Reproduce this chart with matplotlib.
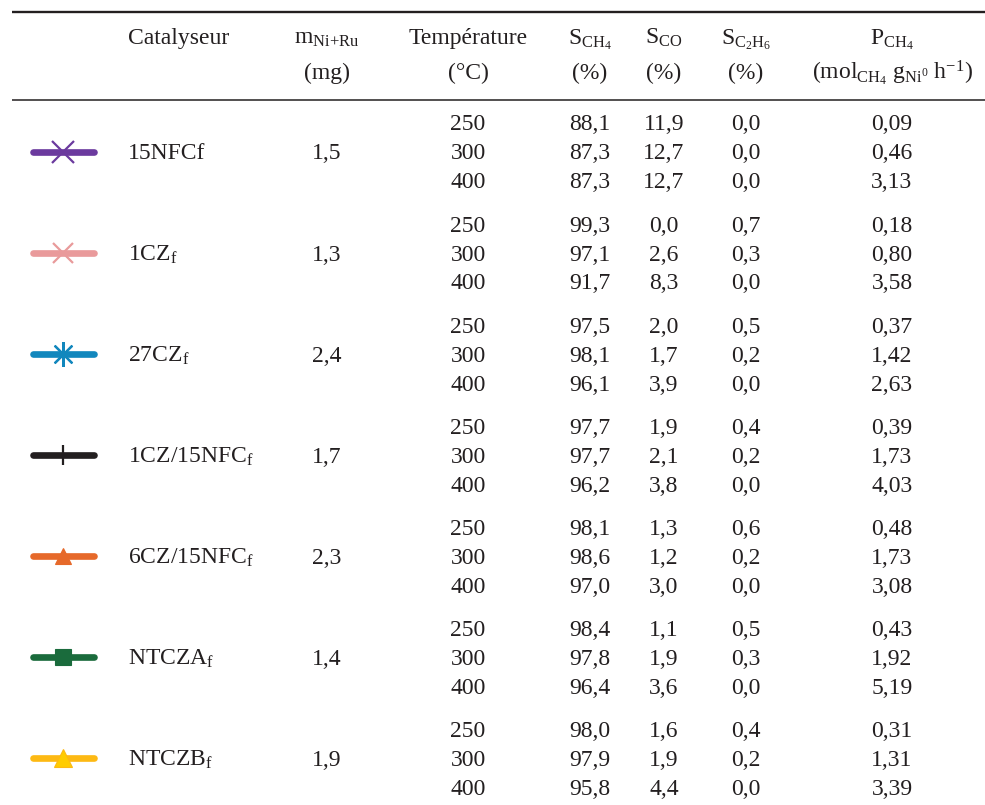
import matplotlib
matplotlib.use("Agg")
import matplotlib.pyplot as plt

plt.rcParams['font.family'] = ['Liberation Serif', 'DejaVu Serif']
plt.rcParams['mathtext.fontset'] = 'custom'
plt.rcParams['mathtext.rm'] = 'Liberation Serif'
plt.rcParams['mathtext.it'] = 'Liberation Serif:italic'
plt.rcParams['mathtext.bf'] = 'Liberation Serif:bold'

# données du tableau
catalysts = ['15NFCf', '1CZ$_\\mathrm{f}$', '27CZ$_\\mathrm{f}$', '1CZ/15NFC$_\\mathrm{f}$',
             '6CZ/15NFC$_\\mathrm{f}$', 'NTCZA$_\\mathrm{f}$', 'NTCZB$_\\mathrm{f}$']
masses = [1.5, 1.3, 2.4, 1.7, 2.3, 1.4, 1.9]
temperatures = [250, 300, 400]
s_ch4 = [[88.1, 87.3, 87.3], [99.3, 97.1, 91.7], [97.5, 98.1, 96.1], [97.7, 97.7, 96.2],
         [98.1, 98.6, 97.0], [98.4, 97.8, 96.4], [98.0, 97.9, 95.8]]
s_co = [[11.9, 12.7, 12.7], [0.0, 2.6, 8.3], [2.0, 1.7, 3.9], [1.9, 2.1, 3.8],
        [1.3, 1.2, 3.0], [1.1, 1.9, 3.6], [1.6, 1.9, 4.4]]
s_c2h6 = [[0.0, 0.0, 0.0], [0.7, 0.3, 0.0], [0.5, 0.2, 0.0], [0.4, 0.2, 0.0],
          [0.6, 0.2, 0.0], [0.5, 0.3, 0.0], [0.4, 0.2, 0.0]]
p_ch4 = [[0.09, 0.46, 3.13], [0.18, 0.80, 3.58], [0.37, 1.42, 2.63], [0.39, 1.73, 4.03],
         [0.48, 1.73, 3.08], [0.43, 1.92, 5.19], [0.31, 1.31, 3.39]]

# style des symboles de légende
colors = ['#6b3a9e', '#e99a9b', '#1287bd', '#231f20', '#e6692a', '#1a6b3c', '#fdb913']
markers = ['x', 'x', (8, 2, 0), '|', '^', 's', '^']
msizes = [16, 14, 18, 14, 12, 12, 13]
mfaces = [None, None, None, None, None, None, '#ffcc00']

header1 = ['Catalyseur', 'm$_{\\mathrm{Ni{+}Ru}}$', 'Température', 'S$_{\\mathrm{CH_4}}$',
           'S$_{\\mathrm{CO}}$', 'S$_{\\mathrm{C_2H_6}}$', 'P$_{\\mathrm{CH_4}}$']
header2 = ['', '(mg)', '(°C)', '(%)', '(%)', '(%)',
           '(mol$_{\\mathrm{CH_4}}$ g$_{\\mathrm{Ni^0}}$ h$^{-1}$)']


def fmt(v, nd):
    return f"{v:.{nd}f}".replace('.', ',')


fig = plt.figure(figsize=(9.85, 8.05), dpi=100)
ax = fig.add_axes([0, 0, 1, 1])
ax.set_xlim(0, 985)
ax.set_ylim(805, 0)
ax.axis('off')

fs = 17
col_x = [128, 327, 468, 590, 664, 746, 892]

# filets
ax.plot([12, 985], [12, 12], color='#231f20', lw=1.7, solid_capstyle='butt')
ax.plot([12, 985], [100, 100], color='#231f20', lw=1.1, solid_capstyle='butt')

# en-tête
for i, (h1, h2) in enumerate(zip(header1, header2)):
    ha = 'left' if i == 0 else 'center'
    ax.text(col_x[i], 44, h1, fontsize=fs, ha=ha, va='baseline', color='#231f20')
    if h2:
        ax.text(col_x[i], 79, h2, fontsize=fs, ha=ha, va='baseline', color='#231f20')

# lignes du tableau
y0, group_step, row_step = 123, 101.1, 28.9
for g, name in enumerate(catalysts):
    yg = y0 + g * group_step
    ym = yg + row_step
    # symbole
    ax.plot([33, 94], [ym, ym], color=colors[g], lw=4.8, solid_capstyle='round', zorder=2)
    thin = markers[g] in ('x', '|') or isinstance(markers[g], tuple)
    mk = dict(marker=markers[g], markersize=msizes[g], color=colors[g],
              markeredgewidth=1.6 if thin else 0.8, linestyle='none', zorder=3)
    if mfaces[g]:
        mk['markerfacecolor'] = mfaces[g]
        mk['markeredgecolor'] = colors[g]
    ax.plot([63], [ym], **mk)
    ax.text(col_x[0], ym + 7.5, name, fontsize=fs, ha='left', va='baseline', color='#231f20')
    ax.text(col_x[1], ym + 7.5, fmt(masses[g], 1), fontsize=fs, ha='center', va='baseline', color='#231f20')
    for r, t in enumerate(temperatures):
        yr = yg + r * row_step + 7.5
        vals = [str(t), fmt(s_ch4[g][r], 1), fmt(s_co[g][r], 1), fmt(s_c2h6[g][r], 1), fmt(p_ch4[g][r], 2)]
        for c, v in enumerate(vals):
            ax.text(col_x[c + 2], yr, v, fontsize=fs, ha='center', va='baseline', color='#231f20')

fig.savefig('out.png', dpi=100)
